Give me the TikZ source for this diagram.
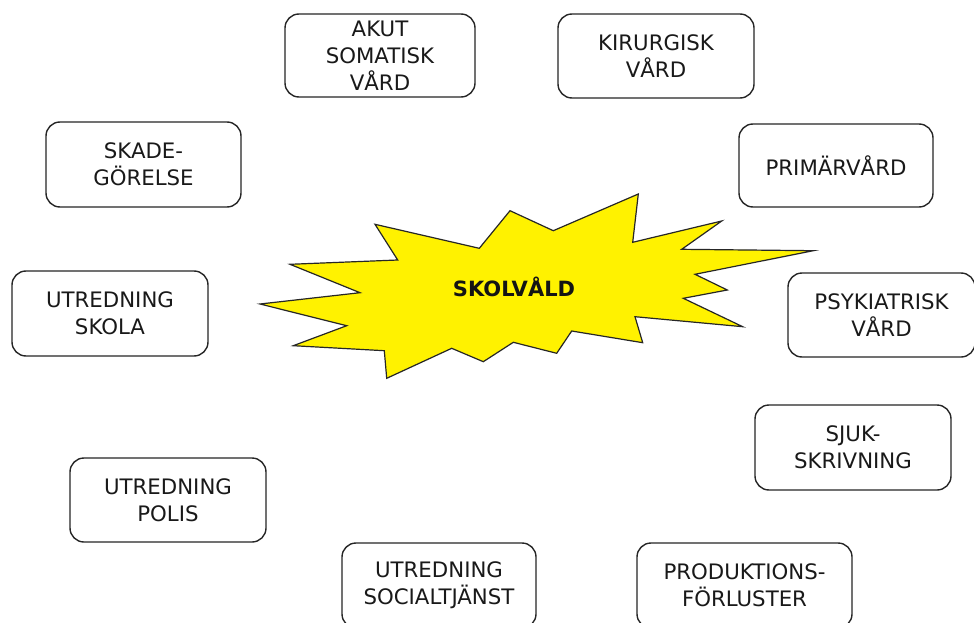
\documentclass[tikz,border=0pt]{standalone}
\usepackage{fontspec}
\setmainfont{DejaVu Sans}
\begin{document}
\begin{tikzpicture}[x=1pt,y=-1pt,
  box/.style={draw=black!85, line width=1.4pt, rounded corners=14pt, fill=white,
    align=center, inner sep=0pt, font=\fontsize{21.3}{27}\selectfont, text=black!90},
  startext/.style={font=\bfseries\fontsize{21}{24}\selectfont, text=black!92}]
\clip (0,0) rectangle (974,623);
\fill[white] (0,0) rectangle (974,623);
% star
\draw[fill=yellow, draw=black!85, line width=1.2pt, line join=miter]
 (260,304) -- (360,292.7) -- (290,264.3) -- (397.7,260) -- (375,224.3)
 -- (479.3,248.3) -- (510,210.7) -- (553.3,230.7) -- (638.3,194) -- (632.7,242.3)
 -- (721.7,221) -- (681.7,249.3) -- (813.3,250.7) -- (695,274.3) -- (727.3,290)
 -- (683.3,298.3) -- (742.7,326.7) -- (635,316.7) -- (642.7,342.7) -- (571.7,331)
 -- (556.7,353.3) -- (513.3,342.3) -- (483.3,361.7) -- (451.7,348.3) -- (386.7,378.3)
 -- (384.3,350.7) -- (293.3,345.7) -- (346.7,325.7) -- cycle;
\node[startext, anchor=base] (skolvald) at (514,296.5) {SKOLVÅLD};
% boxes
\node[box, minimum width=190, minimum height=83] (akut) at (380,55.5) {AKUT\\SOMATISK\\VÅRD};
\node[box, minimum width=196, minimum height=84] (kir) at (656,56) {KIRURGISK\\VÅRD};
\node[box, minimum width=194, minimum height=83] (prim) at (836,165.5) {PRIMÄRVÅRD};
\node[box, minimum width=195, minimum height=85] (skade) at (143.5,164.5) {SKADE-\\GÖRELSE};
\node[box, minimum width=196, minimum height=85] (skola) at (110,313.5) {UTREDNING\\SKOLA};
\node[box, minimum width=187, minimum height=84] (psyk) at (881.5,315) {PSYKIATRISK\\VÅRD};
\node[box, minimum width=196, minimum height=85] (sjuk) at (853,447.5) {SJUK-\\SKRIVNING};
\node[box, minimum width=196, minimum height=84] (polis) at (168,500) {UTREDNING\\POLIS};
\node[box, minimum width=194, minimum height=85] (soc) at (439,585.5) {UTREDNING\\SOCIALTJÄNST};
\node[box, minimum width=215, minimum height=85] (prod) at (744.5,585.5) {PRODUKTIONS-\\FÖRLUSTER};
\end{tikzpicture}
\end{document}
